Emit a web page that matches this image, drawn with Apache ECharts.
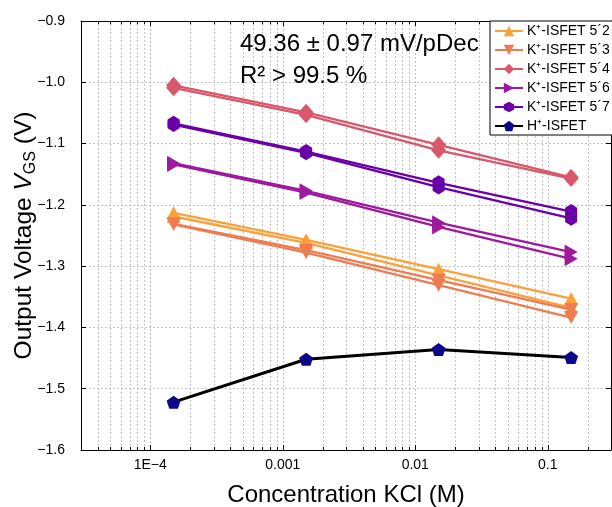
<!DOCTYPE html>
<html>
<head>
<meta charset="utf-8">
<script src="https://cdn.jsdelivr.net/npm/echarts@6/dist/echarts.min.js"></script>
<style>
  html, body { margin: 0; padding: 0; background: #fff; }
  #chart { width: 612px; height: 507px; }
</style>
</head>
<body>
<div id="chart"></div>
<script>
// KCl concentrations (M) at which each sensor was read
const concentrations = [1.5e-4, 1.5e-3, 1.5e-2, 1.5e-1];

// Output voltage V_GS (V), two runs per K+ sensor
const k52RunA = [-1.213, -1.257, -1.305, -1.353];
const k52RunB = [-1.219, -1.262, -1.315, -1.368];
const k53RunA = [-1.231, -1.274, -1.323, -1.371];
const k53RunB = [-1.232, -1.278, -1.331, -1.384];
const k54RunA = [-1.005, -1.049, -1.102, -1.155];
const k54RunB = [-1.009, -1.053, -1.111, -1.157];
const k56RunA = [-1.132, -1.177, -1.229, -1.277];
const k56RunB = [-1.134, -1.180, -1.236, -1.288];
const k57RunA = [-1.067, -1.113, -1.164, -1.211];
const k57RunB = [-1.069, -1.115, -1.171, -1.222];
const hIsfet  = [-1.522, -1.452, -1.436, -1.449];

// Axis ranges and tick labels
const xMin = 3e-5, xMax = 0.3;
const yMin = -1.6, yMax = -0.9, yStep = 0.1;
const xTickValues = [1e-4, 1e-3, 1e-2, 1e-1];
const xTickLabels = ['1E\u22124', '0.001', '0.01', '0.1'];
const xMinorTicks = [
  4e-5, 5e-5, 6e-5, 7e-5, 8e-5, 9e-5,
  2e-4, 3e-4, 4e-4, 5e-4, 6e-4, 7e-4, 8e-4, 9e-4,
  2e-3, 3e-3, 4e-3, 5e-3, 6e-3, 7e-3, 8e-3, 9e-3,
  2e-2, 3e-2, 4e-2, 5e-2, 6e-2, 7e-2, 8e-2, 9e-2,
  2e-1
];

const legendNames = ['K\u207A-ISFET 5\u00B42', 'K\u207A-ISFET 5\u00B43', 'K\u207A-ISFET 5\u00B44',
                     'K\u207A-ISFET 5\u00B46', 'K\u207A-ISFET 5\u00B47', 'H\u207A-ISFET'];

const FONT = '"Liberation Sans", Arial, Helvetica, sans-serif';
const HEX = 'path://M0,-1 L0.866,-0.5 L0.866,0.5 L0,1 L-0.866,0.5 L-0.866,-0.5 Z';
const PENT = 'path://M0,-1 L0.951,-0.309 L0.588,0.809 L-0.588,0.809 L-0.951,-0.309 Z';

function run(name, values, color, symbol, size, rotate, lineColor, lineWidth) {
  return {
    type: 'line',
    name: name,
    data: concentrations.map((c, i) => [c, values[i]]),
    symbol: symbol,
    symbolSize: size,
    symbolRotate: rotate || 0,
    showAllSymbol: true,
    itemStyle: { color: color, opacity: 1 },
    lineStyle: { color: lineColor || color, width: lineWidth || 2.3 },
    emphasis: { disabled: true },
    animation: false,
    z: 3
  };
}

const series = [
  // minor decade gridlines and their small ticks on the bottom and top frame
  {
    type: 'custom',
    silent: true,
    animation: false,
    z: 1,
    data: xMinorTicks.map(v => [v, yMin]),
    encode: { x: 0, y: 1 },
    renderItem: function (params, api) {
      const x = api.value(0);
      const b = api.coord([x, yMin]);
      const t = api.coord([x, yMax]);
      const px = Math.round(b[0]) + 0.5;
      return {
        type: 'group',
        children: [
          { type: 'line', shape: { x1: px, y1: b[1], x2: px, y2: t[1] },
            style: { stroke: '#c4c4c4', lineWidth: 1, lineDash: [2, 2] } },
          { type: 'line', shape: { x1: px, y1: b[1], x2: px, y2: b[1] - 3 },
            style: { stroke: '#000', lineWidth: 1 } },
          { type: 'line', shape: { x1: px, y1: t[1], x2: px, y2: t[1] + 3 },
            style: { stroke: '#000', lineWidth: 1 } }
        ]
      };
    }
  },
  run(legendNames[0], k52RunA, '#FCA03A', 'triangle', [14, 13], 0),
  run(legendNames[0], k52RunB, '#FCA03A', 'triangle', [14, 13], 0),
  run(legendNames[1], k53RunA, '#EE7B52', 'triangle', [14, 13], 180),
  run(legendNames[1], k53RunB, '#EE7B52', 'triangle', [14, 13], 180),
  run(legendNames[2], k54RunA, '#D8576B', 'diamond', [15, 17], 0),
  run(legendNames[2], k54RunB, '#D8576B', 'diamond', [15, 17], 0),
  run(legendNames[3], k56RunA, '#9E199D', 'triangle', [15, 13], -90),
  run(legendNames[3], k56RunB, '#9E199D', 'triangle', [15, 13], -90),
  run(legendNames[4], k57RunA, '#6A00A8', HEX, [12, 15], 0),
  run(legendNames[4], k57RunB, '#6A00A8', HEX, [12, 15], 0),
  run(legendNames[5], hIsfet, '#0D0887', PENT, [14, 13], 0, '#000000', 3)
];

const gridLine = { show: true, lineStyle: { color: '#c4c4c4', width: 1, type: [2, 2] } };

const option = {
  animation: false,
  backgroundColor: '#fff',
  textStyle: { fontFamily: FONT },
  grid: { left: 81, top: 21, width: 530, height: 429, containLabel: false, outerBoundsMode: 'none' },
  legend: {
    data: legendNames,
    orient: 'vertical',
    left: 490,
    top: 21,
    itemWidth: 28,
    itemHeight: 13,
    itemGap: 5,
    padding: [3, 6, 2, 4],
    borderColor: '#000',
    borderWidth: 1,
    borderRadius: 0,
    backgroundColor: '#fff',
    selectedMode: false,
    textStyle: { fontFamily: FONT, fontSize: 14, color: '#000', padding: [0, 0, 0, -1] }
  },
  xAxis: [
    {
      type: 'log', logBase: 10, min: xMin, max: xMax, position: 'bottom',
      name: 'Concentration KCl (M)', nameLocation: 'middle', nameGap: 33,
      nameMoveOverlap: false,
      nameTextStyle: { fontFamily: FONT, fontSize: 24, color: '#000' },
      axisLine: { show: true, onZero: false, lineStyle: { color: '#000', width: 1 } },
      axisTick: { show: true, inside: true, length: 5, lineStyle: { color: '#000' } },
      axisLabel: {
        fontFamily: FONT, fontSize: 14, color: '#000', margin: 8,
        showMinLabel: false, showMaxLabel: false,
        formatter: function (v) {
          for (let i = 0; i < xTickValues.length; i++) {
            if (Math.abs(Math.log10(v) - Math.log10(xTickValues[i])) < 1e-6) return xTickLabels[i];
          }
          return '';
        }
      },
      splitLine: gridLine
    },
    {
      type: 'log', logBase: 10, min: xMin, max: xMax, position: 'top',
      axisLine: { show: true, onZero: false, lineStyle: { color: '#000', width: 1 } },
      axisTick: { show: true, inside: true, length: 5, lineStyle: { color: '#000' } },
      axisLabel: { show: false },
      splitLine: { show: false }
    }
  ],
  yAxis: [
    {
      type: 'value', min: yMin, max: yMax, interval: yStep, position: 'left',
      name: '{a|Output Voltage }{i|V}{s|GS}{a| (V)}',
      nameLocation: 'middle', nameRotate: 90, nameGap: 42,
      nameMoveOverlap: false,
      nameTextStyle: {
        rich: {
          a: { fontFamily: FONT, fontSize: 24.5, color: '#000' },
          i: { fontFamily: FONT, fontSize: 24.5, color: '#000', fontStyle: 'italic' },
          s: { fontFamily: FONT, fontSize: 16, color: '#000', padding: [14, 0, 0, 0] }
        }
      },
      axisLine: { show: true, onZero: false, lineStyle: { color: '#000', width: 1 } },
      axisTick: { show: true, inside: true, length: 5, lineStyle: { color: '#000' } },
      axisLabel: {
        fontFamily: FONT, fontSize: 14, color: '#000', margin: 16,
        formatter: v => v.toFixed(1).replace('-', '\u2212')
      },
      splitLine: gridLine
    },
    {
      type: 'value', min: yMin, max: yMax, interval: yStep, position: 'right',
      axisLine: { show: true, onZero: false, lineStyle: { color: '#000', width: 1 } },
      axisTick: { show: true, inside: true, length: 5, lineStyle: { color: '#000' } },
      axisLabel: { show: false },
      splitLine: { show: false }
    }
  ],
  graphic: [
    {
      type: 'text', left: 240, top: 32, z: 10,
      style: { text: '49.36 \u00B1 0.97 mV/pDec', fontFamily: FONT, fontSize: 24, fill: '#000' }
    },
    {
      type: 'text', left: 240, top: 64, z: 10,
      style: { text: 'R\u00B2 > 99.5 %', fontFamily: FONT, fontSize: 24, fill: '#000' }
    }
  ],
  series: series
};

const chart = echarts.init(document.getElementById('chart'), null, { renderer: 'canvas' });
chart.setOption(option);
</script>
</body>
</html>
